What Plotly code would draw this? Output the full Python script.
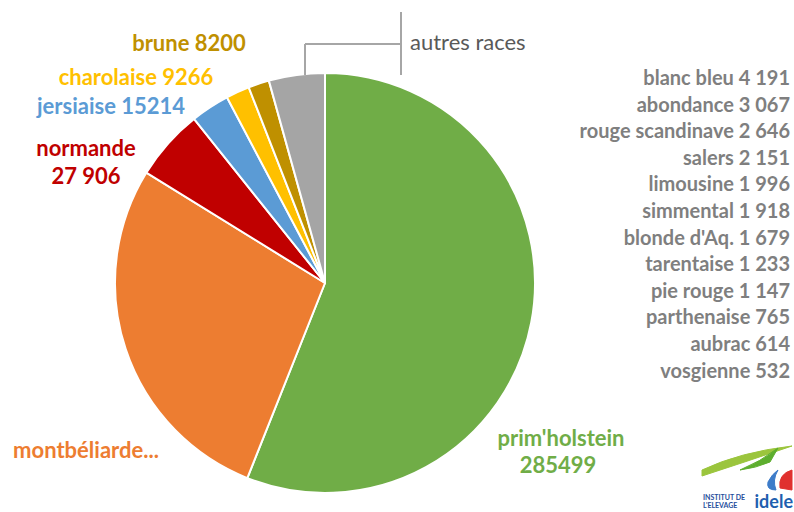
import plotly.graph_objects as go

# --- Data ---
RACES = ["prim'holstein", "montbéliarde", "normande", "jersiaise", "charolaise", "brune", "autres races"]
EFFECTIFS = [285499, 141500, 27906, 15214, 9266, 8200, 21939]
COULEURS = ["#70AD47", "#ED7D31", "#C00000", "#5B9BD5", "#FFC000", "#BF9000", "#A5A5A5"]

AUTRES_NOMS = ["blanc bleu", "abondance", "rouge scandinave", "salers", "limousine", "simmental",
               "blonde d'Aq.", "tarentaise", "pie rouge", "parthenaise", "aubrac", "vosgienne"]
AUTRES_VALEURS = ["4 191", "3 067", "2 646", "2 151", "1 996", "1 918",
                  "1 679", "1 233", "1 147", "765", "614", "532"]

W, H = 794, 512
FONT = "Lato"


def px_x(x):
    return x / W


def px_y(y):
    return 1 - y / H


fig = go.Figure()

fig.add_trace(go.Pie(
    labels=RACES,
    values=EFFECTIFS,
    marker=dict(colors=COULEURS, line=dict(color="white", width=2)),
    sort=False,
    direction="clockwise",
    rotation=0,
    textinfo="none",
    hoverinfo="label+value",
    domain=dict(x=[px_x(115), px_x(535)], y=[px_y(493), px_y(73)]),
    showlegend=False,
))


def add_text(x, y, txt, color, size, pos="middle center"):
    fig.add_trace(go.Scatter(
        x=[x], y=[y], mode="text", text=[txt], textposition=pos,
        textfont=dict(family=FONT, size=size, color=color),
        hoverinfo="skip", showlegend=False, cliponaxis=False,
    ))


# coloured labels around the pie
add_text(189, 45, "<b>brune 8200</b>", "#BF9000", 22)
add_text(136, 79, "<b>charolaise 9266</b>", "#FFC000", 22)
add_text(111, 108, "<b>jersiaise 15214</b>", "#5B9BD5", 22)
add_text(86, 150, "<b>normande</b>", "#C00000", 22)
add_text(86, 178, "<b>27 906</b>", "#C00000", 22)
add_text(86, 452, "<b>montbéliarde...</b>", "#ED7D31", 22)
add_text(561, 440, "<b>prim'holstein</b>", "#70AD47", 22)
add_text(558, 467, "<b>285499</b>", "#70AD47", 22)
add_text(410, 44, "autres races", "#595959", 22, "middle right")

# list of the other breeds
for i, (nom, val) in enumerate(zip(AUTRES_NOMS, AUTRES_VALEURS)):
    add_text(790, 80 + i * 26.6, "<b>%s %s</b>" % (nom, val), "#7F7F7F", 20, "middle left")

# logo (rough)
add_text(793, 503, "<b>idele</b>", "#1F5FAF", 18, "middle left")
add_text(703, 498, "<b>INSTITUT DE</b>", "#1F4E9C", 7, "middle right")
add_text(703, 506, "<b>L'ELEVAGE</b>", "#1F4E9C", 7, "middle right")

line_style = dict(color="#A6A6A6", width=2)
shapes = [
    dict(type="line", x0=401, x1=401, y0=12, y1=75, line=line_style),
    dict(type="line", x0=305, x1=401, y0=44, y1=44, line=line_style),
    dict(type="line", x0=305, x1=305, y0=44, y1=75, line=line_style),
    # logo swoosh
    dict(type="path", path="M 702 470 Q 740 452 792 446 Q 745 462 702 476 Z",
         fillcolor="#9BC53D", line=dict(color="#9BC53D", width=1)),
    dict(type="path", path="M 740 470 Q 760 462 778 448 L 770 462 Q 756 468 740 470 Z",
         fillcolor="#5DAE2E", line=dict(color="#5DAE2E", width=1)),
    dict(type="path", path="M 768 482 Q 772 474 778 470 Q 772 480 776 490 Q 766 490 768 482 Z",
         fillcolor="#3D7CC9", line=dict(color="#3D7CC9", width=1)),
    dict(type="path", path="M 780 488 Q 778 474 792 470 L 792 490 Z",
         fillcolor="#E0312F", line=dict(color="#E0312F", width=1)),
]
for s in shapes:
    s.update(xref="x", yref="y", layer="above")

fig.update_layout(
    width=W, height=H,
    margin=dict(l=0, r=0, t=0, b=0),
    paper_bgcolor="white",
    plot_bgcolor="rgba(0,0,0,0)",
    xaxis=dict(range=[0, W], visible=False, fixedrange=True),
    yaxis=dict(range=[H, 0], visible=False, fixedrange=True),
    shapes=shapes,
)

fig.write_html("out.html", config={"displayModeBar": False},
               post_script="document.body.style.margin = '0';")
